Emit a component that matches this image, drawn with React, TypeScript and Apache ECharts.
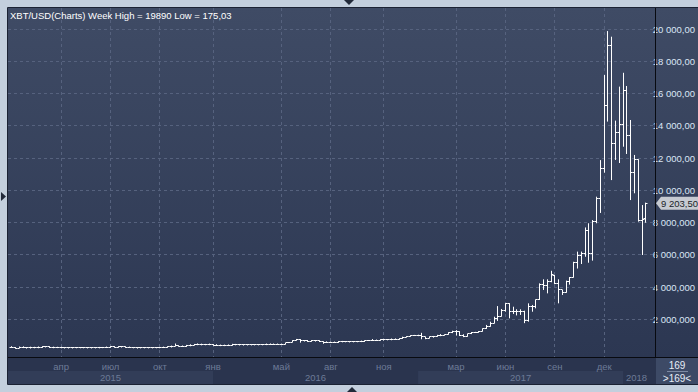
import React, { useEffect, useRef } from "react";
import * as echarts from "echarts";

const titleText = "XBT/USD(Charts) Week High = 19890 Low = 175,03";
const monthTickIdx = [13, 26, 39, 53, 71, 84, 98, 117, 130, 143, 156];
const monthTickLabels = ["апр", "июл", "окт", "янв", "май", "авг", "ноя", "мар", "июн", "сен", "дек"];
const yearLabels = ["2015", "2016", "2017", "2018"];
const yearStartIdx = [-1, 53, 107, 161, 168];
const priceTicks = [2000, 4000, 6000, 8000, 10000, 12000, 14000, 16000, 18000, 20000];
const lastPrice = 9203.5;
const barCountText = "169";
const barCountSub = ">169<";

// [open, close, low, high]
const ohlc2015 = [
  [274, 269, 264, 300], [269, 210, 175, 276], [210, 253, 205, 310], [253, 230, 213, 320],
  [230, 222, 212, 245], [222, 257, 215, 267], [257, 245, 232, 260], [245, 275, 235, 281],
  [275, 290, 260, 300], [290, 286, 282, 298], [286, 260, 252, 294], [260, 253, 236, 270],
  [253, 255, 242, 262], [255, 236, 234, 261], [236, 223, 218, 237], [223, 226, 217, 238],
  [226, 241, 219, 243], [241, 242, 232, 249], [242, 237, 234, 246], [237, 240, 231, 242],
  [240, 226, 221, 241], [226, 231, 221, 233], [231, 233, 226, 238], [233, 244, 228, 254],
  [244, 251, 240, 251], [251, 271, 246, 276], [271, 287, 264, 297], [287, 275, 273, 302],
  [275, 292, 272, 300], [292, 281, 277, 297], [281, 265, 258, 284], [265, 261, 258, 271],
  [261, 231, 199, 263], [231, 229, 210, 232], [229, 240, 225, 244], [240, 230, 228, 245],
  [230, 231, 225, 236], [231, 234, 225, 237], [234, 240, 232, 242], [240, 248, 236, 249],
  [248, 265, 247, 271], [265, 285, 262, 292], [285, 330, 280, 335], [330, 375, 325, 495],
  [375, 331, 305, 385], [331, 325, 315, 340], [325, 370, 320, 378], [370, 389, 355, 415],
  [389, 453, 385, 468], [453, 440, 425, 469], [440, 423, 415, 456], [423, 431, 420, 440],
  [431, 448, 425, 460],
];
const ohlc2016 = [
  [448, 382, 360, 452], [382, 396, 375, 420], [396, 372, 365, 398], [372, 385, 366, 395],
  [385, 402, 370, 405], [402, 438, 398, 446], [438, 434, 416, 440], [434, 414, 404, 438],
  [414, 414, 400, 420], [414, 410, 406, 420], [410, 417, 408, 420], [417, 420, 412, 425],
  [420, 419, 413, 424], [419, 430, 418, 432], [430, 458, 428, 462], [458, 454, 445, 468],
  [454, 460, 443, 463], [460, 455, 448, 462], [455, 442, 435, 458], [442, 532, 438, 535],
  [532, 580, 525, 590], [580, 690, 574, 700], [690, 752, 680, 780], [752, 661, 550, 768],
  [661, 680, 620, 705], [680, 650, 630, 682], [650, 667, 645, 678], [667, 655, 648, 678],
  [655, 626, 620, 658], [626, 590, 480, 628], [590, 569, 565, 595], [569, 580, 564, 585],
  [580, 574, 570, 585], [574, 609, 570, 612], [609, 610, 601, 625], [610, 606, 604, 612],
  [606, 601, 594, 610], [601, 612, 599, 614], [612, 619, 608, 622], [619, 640, 615, 645],
  [640, 655, 627, 658], [655, 700, 652, 715], [700, 702, 684, 740], [702, 705, 690, 710],
  [705, 720, 700, 735], [720, 740, 712, 748], [740, 735, 725, 745], [735, 765, 730, 775],
  [765, 775, 752, 780], [775, 790, 760, 793], [790, 895, 788, 920], [895, 930, 880, 950],
  [930, 1000, 920, 1010], [1000, 998, 960, 1030], [998, 1000, 985, 1010],
];
const ohlc2017 = [
  [998, 905, 760, 1160], [905, 820, 765, 915], [820, 920, 818, 930], [920, 920, 890, 935],
  [920, 1020, 915, 1035], [1020, 995, 950, 1080], [995, 1050, 990, 1060], [1050, 1180, 1045, 1195],
  [1180, 1230, 1140, 1290], [1230, 1240, 990, 1330], [1240, 970, 960, 1260], [970, 960, 890, 1070],
  [960, 1090, 920, 1100], [1090, 1180, 1080, 1210], [1180, 1180, 1150, 1220], [1180, 1250, 1170, 1265],
  [1250, 1420, 1240, 1430], [1420, 1550, 1400, 1650], [1550, 1760, 1540, 1850], [1760, 2050, 1750, 2160],
  [2050, 2170, 1900, 2820], [2170, 2560, 2170, 2640], [2560, 2990, 2470, 3000], [2990, 2470, 2060, 3000],
  [2470, 2480, 2330, 2780], [2480, 2510, 2240, 2620], [2510, 2500, 2270, 2620], [2500, 1900, 1760, 2530],
  [1900, 2820, 1850, 2990], [2820, 2780, 2470, 2890], [2780, 3200, 2680, 3220], [3250, 4130, 3200, 4230],
  [4130, 4100, 3820, 4480], [4100, 4360, 3610, 4480], [4360, 4750, 4300, 5010], [4690, 4230, 4190, 4750],
  [4230, 3820, 2990, 4480], [3820, 3650, 3510, 3820], [3650, 4330, 3650, 4400], [4330, 4600, 4150, 4620],
  [4600, 5540, 4590, 5570], [5540, 5990, 5150, 6200], [5990, 6110, 5430, 6200], [6110, 7540, 5880, 7700],
  [7540, 6090, 5510, 7960], [6090, 8100, 5640, 8160], [8060, 9470, 7960, 9610], [9470, 11370, 8600, 11880],
  [11370, 15240, 11100, 17160], [15240, 18980, 14270, 19890], [18980, 12880, 10640, 19540], [12880, 13580, 11890, 14330],
];
const ohlc2018 = [
  [13580, 14060, 11700, 16440], [14060, 16190, 12710, 17300], [16190, 13380, 12260, 16480], [13380, 11080, 9400, 14370],
  [11080, 11890, 9820, 12200], [11890, 8160, 8060, 11930], [8160, 8210, 5990, 9090], [8270, 9203.5, 7995, 9240],
];

const FONT = "'Liberation Sans', Arial, sans-serif";

function fmtPrice(v: number): string {
  const s = String(Math.round(v)).replace(/\B(?=(\d{3})+(?!\d))/g, " ");
  return v >= 10000 ? s + ",00" : s + ",000";
}

export default function App() {
  const ref = useRef<HTMLDivElement>(null);
  useEffect(() => {
    const chart = echarts.init(ref.current!, null, { renderer: "svg" });
    const bars = [...ohlc2015, ...ohlc2016, ...ohlc2017, ...ohlc2018];
    const data = bars.map((b, i) => [i, b[0], b[1], b[2], b[3]]);
    const crisp = (v: number) => Math.round(v - 0.5) + 0.5;

    chart.setOption({
      animation: false,
      backgroundColor: "#c3cfdd",
      grid: { left: 8, right: 43, top: 8, bottom: 35, containLabel: false },
      xAxis: {
        type: "value",
        min: -1,
        max: 168,
        z: 10,
        axisLine: { show: false },
        axisTick: { show: false },
        splitLine: { show: false },
        axisLabel: {
          customValues: monthTickIdx,
          formatter: (v: number) => monthTickLabels[monthTickIdx.indexOf(v)] ?? "",
          color: "#6d7b97",
          fontFamily: FONT,
          fontSize: 9.5,
          margin: 4,
        },
      },
      yAxis: {
        type: "value",
        position: "right",
        min: -341,
        max: 21321,
        z: 10,
        axisLine: { show: false },
        axisTick: { show: false },
        splitLine: { show: false },
        axisLabel: {
          customValues: priceTicks,
          formatter: (v: number) => fmtPrice(v),
          color: "#dbe6f5",
          fontFamily: FONT,
          fontSize: 9.5,
          margin: 3,
          align: "left",
        },
      },
      series: [
        {
          type: "custom",
          z: 10,
          clip: false,
          data,
          renderItem: (params: any, api: any) => {
            const i = api.value(0);
            const o = api.coord([i, api.value(1)]);
            const c = api.coord([i, api.value(2)]);
            const l = api.coord([i, api.value(3)]);
            const h = api.coord([i, api.value(4)]);
            const x = crisp(o[0]);
            let yl = l[1];
            let yh = h[1];
            if (yl - yh < 1) { yl += 0.5; yh -= 0.5; }
            const style = { stroke: "#ffffff", lineWidth: 1 };
            return {
              type: "group",
              children: [
                { type: "line", shape: { x1: x, y1: yl, x2: x, y2: yh }, style },
                { type: "line", shape: { x1: x - 2, y1: crisp(o[1]), x2: x, y2: crisp(o[1]) }, style },
                { type: "line", shape: { x1: x, y1: crisp(c[1]), x2: x + 2, y2: crisp(c[1]) }, style },
              ],
            };
          },
        },
      ],
    });

    const px = (i: number) => chart.convertToPixel({ xAxisIndex: 0 }, i) as number;
    const py = (v: number) => chart.convertToPixel({ yAxisIndex: 0 }, v) as number;

    const gridStyle = { stroke: "#56627e", lineWidth: 1, lineDash: [3, 3] };
    const g: any[] = [];
    // panel backgrounds
    g.push({
      type: "rect", z: -100, silent: true,
      shape: { x: 8, y: 8, width: 690, height: 349 },
      style: {
        fill: new echarts.graphic.LinearGradient(0, 0, 0, 1, [
          { offset: 0, color: "#3f4b65" },
          { offset: 1, color: "#2c3752" },
        ]),
      },
    });
    g.push({ type: "rect", z: -100, silent: true, shape: { x: 8, y: 357, width: 648, height: 27 }, style: { fill: "#2a344e" } });
    // year bands
    for (let k = 0; k < yearLabels.length; k++) {
      const x0 = Math.max(8, px(yearStartIdx[k]));
      const x1 = Math.min(655, px(yearStartIdx[k + 1]));
      if (k % 2 === 0 && k < 3) {
        g.push({ type: "rect", z: -90, silent: true, shape: { x: x0, y: 371, width: x1 - x0, height: 13 }, style: { fill: "#323d58" } });
      }
      g.push({
        type: "text", z: 20, silent: true,
        x: (x0 + x1) / 2, y: 377.5,
        style: { text: yearLabels[k], fill: "#6d7b97", font: `9.5px ${FONT}`, align: "center", verticalAlign: "middle" },
      });
    }
    // count box
    g.push({ type: "rect", z: -90, silent: true, shape: { x: 656, y: 358, width: 42, height: 26 }, style: { fill: "#3d4a66" } });
    g.push({ type: "text", z: 20, silent: true, x: 677, y: 365, style: { text: barCountText, fill: "#e6edf7", font: `10px ${FONT}`, align: "center", verticalAlign: "middle" } });
    g.push({ type: "line", z: 20, silent: true, shape: { x1: 667, y1: 371.5, x2: 688, y2: 371.5 }, style: { stroke: "#7d8aa3", lineWidth: 1 } });
    g.push({ type: "text", z: 20, silent: true, x: 677, y: 378, style: { text: barCountSub, fill: "#e6edf7", font: `10px ${FONT}`, align: "center", verticalAlign: "middle" } });
    // grid lines
    for (const v of priceTicks) {
      const y = crisp(py(v));
      g.push({ type: "line", z: 1, silent: true, shape: { x1: 8, y1: y, x2: 655, y2: y }, style: gridStyle });
    }
    for (const i of monthTickIdx) {
      const x = crisp(px(i));
      g.push({ type: "line", z: 1, silent: true, shape: { x1: x, y1: 8, x2: x, y2: 357 }, style: gridStyle });
    }
    // separators
    g.push({ type: "line", z: 15, silent: true, shape: { x1: 655.5, y1: 8, x2: 655.5, y2: 357 }, style: { stroke: "#080a10", lineWidth: 1 } });
    g.push({ type: "line", z: 15, silent: true, shape: { x1: 8, y1: 357.5, x2: 698, y2: 357.5 }, style: { stroke: "#080a10", lineWidth: 1 } });
    // panel border
    g.push({ type: "rect", z: 15, silent: true, shape: { x: 7.5, y: 7.5, width: 700, height: 377 }, style: { fill: "none", stroke: "#1b2233", lineWidth: 1 } });
    // title
    g.push({ type: "text", z: 20, silent: true, x: 10, y: 15, style: { text: titleText, fill: "#ffffff", font: `9.5px ${FONT}`, verticalAlign: "middle" } });
    // last price tag
    const ty = py(lastPrice);
    g.push({
      type: "polygon", z: 20, silent: true,
      shape: { points: [[656, ty], [661, ty - 6.5], [698, ty - 6.5], [698, ty + 6.5], [661, ty + 6.5]] },
      style: { fill: "#c6cad1" },
    });
    g.push({ type: "text", z: 21, silent: true, x: 661, y: ty, style: { text: "9 203,50", fill: "#1a1e28", font: `9.5px ${FONT}`, verticalAlign: "middle" } });
    // scroll triangles
    g.push({ type: "polygon", z: 20, silent: true, shape: { points: [[344, 0], [354, 0], [349, 5]] }, style: { fill: "#222a3a" } });
    g.push({ type: "polygon", z: 20, silent: true, shape: { points: [[1, 192], [1, 201], [6, 196.5]] }, style: { fill: "#222a3a" } });
    g.push({ type: "polygon", z: 20, silent: true, shape: { points: [[347, 392], [357, 392], [352, 387]] }, style: { fill: "#222a3a" } });

    chart.setOption({ graphic: g });
    return () => chart.dispose();
  }, []);
  return <div ref={ref} style={{ position: "fixed", left: 0, top: 0, width: 698, height: 392 }} />;
}
